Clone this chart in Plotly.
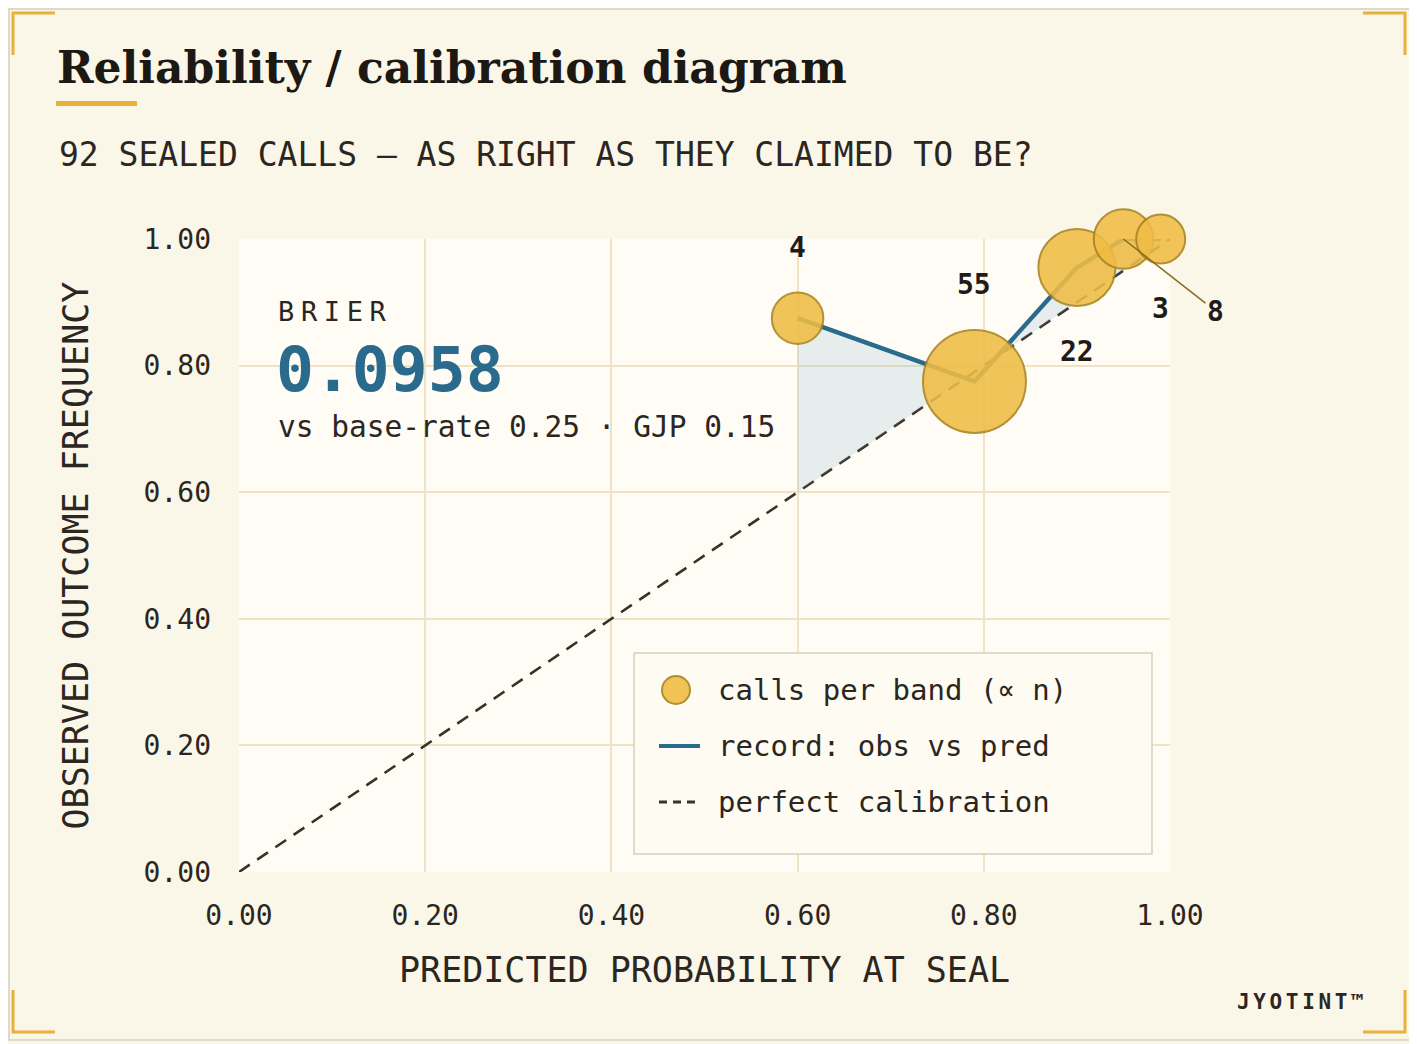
import math
import plotly.graph_objects as go

# calibration bands: mean predicted probability, observed frequency, number of calls
pred = [0.60, 0.79, 0.90, 0.95, 0.99]
obs = [0.875, 0.775, 0.955, 1.00, 1.00]
n_calls = [4, 55, 22, 8, 3]
label_pos = ["above", "above", "below", "leader", "below"]

diag = [0.0, 1.0]
ticks = [0.0, 0.2, 0.4, 0.6, 0.8, 1.0]
tick_text = ["0.00", "0.20", "0.40", "0.60", "0.80", "1.00"]

brier = "0.0958"
base_rate = "0.25"
gjp = "0.15"

legend_labels = ["calls per band (\u221d n)", "record: obs vs pred", "perfect calibration"]

# page is 1417x1044, the html body adds an 8px offset
W, H, OFF = 1417, 1044, 8
L, R, T, B = 239, 1170, 239, 872   # plot area in page pixels
MONO = "DejaVu Sans Mono"
INK = "#2b2621"
BLUE = "#2a6a8c"
GOLD = "#e8b23a"
GRID = "#efe3c4"


def px(x):
    return (x - L) / (R - L)


def py(y):
    return (B - y) / (B - T)


def spaced(s, gap):
    # widen letter spacing with small spaces between glyphs
    sp = f"<span style='font-size:{gap}px'> </span>"
    return sp.join(s)


sizes = [32.5 + 9.5 * math.sqrt(v) for v in n_calls]

fig = go.Figure()

# perfect calibration
fig.add_trace(go.Scatter(
    x=diag, y=diag, mode="lines",
    line=dict(color="#3a3129", width=2.6, dash="13px,9px"),
    showlegend=False, hoverinfo="skip",
))

# shaded gap between record and diagonal
fig.add_trace(go.Scatter(
    x=pred, y=pred, mode="lines", line=dict(width=0),
    showlegend=False, hoverinfo="skip",
))
fig.add_trace(go.Scatter(
    x=pred, y=obs, mode="lines", line=dict(width=0),
    fill="tonexty", fillcolor="rgba(120,170,200,0.18)",
    showlegend=False, hoverinfo="skip",
))

# record line
fig.add_trace(go.Scatter(
    x=pred, y=obs, mode="lines",
    line=dict(color=BLUE, width=4.5), showlegend=False,
))

# bubbles
fig.add_trace(go.Scatter(
    x=pred, y=obs, mode="markers",
    marker=dict(size=sizes, color="#f0bd45", opacity=0.88,
                line=dict(color="#a8841e", width=2)),
    showlegend=False, cliponaxis=False,
    customdata=n_calls, hovertemplate="n=%{customdata}<extra></extra>",
))

annotations = []
for x, y, n, s, pos in zip(pred, obs, n_calls, sizes, label_pos):
    lab = dict(x=x, y=y, text=str(n), xref="x", yref="y",
               font=dict(family=MONO, size=28, color="#1f1b17", weight="bold"))
    if pos == "leader":
        lab.update(showarrow=True, arrowhead=0, arrowwidth=1.5,
                   arrowcolor="#8a6a1e", ax=92, ay=72)
    else:
        shift = s / 2 + 45
        lab.update(showarrow=False, yshift=shift if pos == "above" else -shift)
    annotations.append(lab)

annotations += [
    dict(x=px(57), y=py(155), xref="paper", yref="paper", xanchor="left",
         yanchor="middle", showarrow=False,
         text="92 SEALED CALLS \u2014 AS RIGHT AS THEY CLAIMED TO BE?",
         font=dict(family=MONO, size=33, color=INK)),
    dict(x=px(276), y=py(311), xref="paper", yref="paper", xanchor="left",
         yanchor="middle", showarrow=False, text=spaced("BRIER", 11),
         font=dict(family=MONO, size=27, color=INK)),
    dict(x=px(274), y=py(369), xref="paper", yref="paper", xanchor="left",
         yanchor="middle", showarrow=False, text=brier,
         font=dict(family=MONO, size=63, color=BLUE, weight="bold")),
    dict(x=px(276), y=py(427), xref="paper", yref="paper", xanchor="left",
         yanchor="middle", showarrow=False,
         text=f"vs base-rate {base_rate} \u00b7 GJP {gjp}",
         font=dict(family=MONO, size=29.5, color=INK)),
    dict(x=px(1366), y=py(1002), xref="paper", yref="paper", xanchor="right",
         yanchor="middle", showarrow=False, text=spaced("JYOTINT\u2122", 6),
         font=dict(family=MONO, size=21, color=INK, weight="bold")),
    dict(x=0.5, y=py(970), xref="paper", yref="paper", xanchor="center",
         yanchor="middle", showarrow=False, text="PREDICTED PROBABILITY AT SEAL",
         font=dict(family=MONO, size=35, color=INK)),
    dict(x=px(75), y=0.5, xref="paper", yref="paper", xanchor="center",
         yanchor="middle", showarrow=False, text="OBSERVED OUTCOME FREQUENCY",
         textangle=-90, font=dict(family=MONO, size=35, color=INK)),
]

# legend drawn as a panel
leg_x0, leg_x1, leg_y0, leg_y1 = 634, 1152, 653, 854
row_y = [690, 746, 802]
shapes = [
    dict(type="rect", xref="paper", yref="paper", x0=px(leg_x0), x1=px(leg_x1),
         y0=py(leg_y0), y1=py(leg_y1), fillcolor="#fdfbf2",
         line=dict(color="#d8cfbb", width=1.5)),
    dict(type="circle", xref="paper", yref="paper", x0=px(662), x1=px(690),
         y0=py(676), y1=py(704), fillcolor="#f0bd45", opacity=0.9,
         line=dict(color="#a8841e", width=2)),
    dict(type="line", xref="paper", yref="paper", x0=px(659), x1=px(700),
         y0=py(row_y[1]), y1=py(row_y[1]), line=dict(color=BLUE, width=4)),
    dict(type="line", xref="paper", yref="paper", x0=px(659), x1=px(700),
         y0=py(row_y[2]), y1=py(row_y[2]),
         line=dict(color="#3a3129", width=2.8, dash="8px,6px")),
]
for ry, txt in zip(row_y, legend_labels):
    annotations.append(dict(
        x=px(716), y=py(ry), xref="paper", yref="paper", xanchor="left",
        yanchor="middle", showarrow=False, text=txt,
        font=dict(family=MONO, size=29, color=INK)))

# frame, title rule and gold corner brackets
shapes += [
    dict(type="rect", xref="paper", yref="paper", x0=px(9), x1=px(1412),
         y0=py(9), y1=py(1040), line=dict(color="#d6cfbf", width=1.5)),
    dict(type="rect", xref="paper", yref="paper", x0=px(56), x1=px(137),
         y0=py(101), y1=py(106), fillcolor=GOLD, line=dict(width=0)),
]
for cx, cy, dx, dy in [(13, 13, 1, 1), (1405, 13, -1, 1),
                       (13, 1032, 1, -1), (1405, 1032, -1, -1)]:
    shapes.append(dict(
        type="path", xref="paper", yref="paper",
        path=f"M {px(cx + 42 * dx)},{py(cy)} L {px(cx)},{py(cy)} L {px(cx)},{py(cy + 42 * dy)}",
        line=dict(color=GOLD, width=3),
    ))

axis_common = dict(
    range=[0, 1], tickvals=ticks, ticktext=tick_text,
    showgrid=True, gridcolor=GRID, gridwidth=1.5, zeroline=False,
    showline=False, tickfont=dict(family=MONO, size=28, color=INK),
    fixedrange=True,
)

fig.update_layout(
    width=W - OFF, height=H - OFF,
    margin=dict(l=L - OFF, r=W - R, t=T - OFF, b=H - B),
    paper_bgcolor="#faf6e8",
    plot_bgcolor="#fefcf4",
    title=dict(text="<b>Reliability / calibration diagram</b>",
               x=(57 - OFF) / (W - OFF), xanchor="left",
               y=1 - (68 - OFF) / (H - OFF), yanchor="middle",
               xref="container", yref="container",
               font=dict(family="DejaVu Serif", size=44, color="#1c1814")),
    xaxis=dict(**axis_common, ticklabelstandoff=24),
    yaxis=dict(**axis_common, ticklabelstandoff=27),
    annotations=annotations,
    shapes=shapes,
    showlegend=False,
)

fig.write_html("out.html")
